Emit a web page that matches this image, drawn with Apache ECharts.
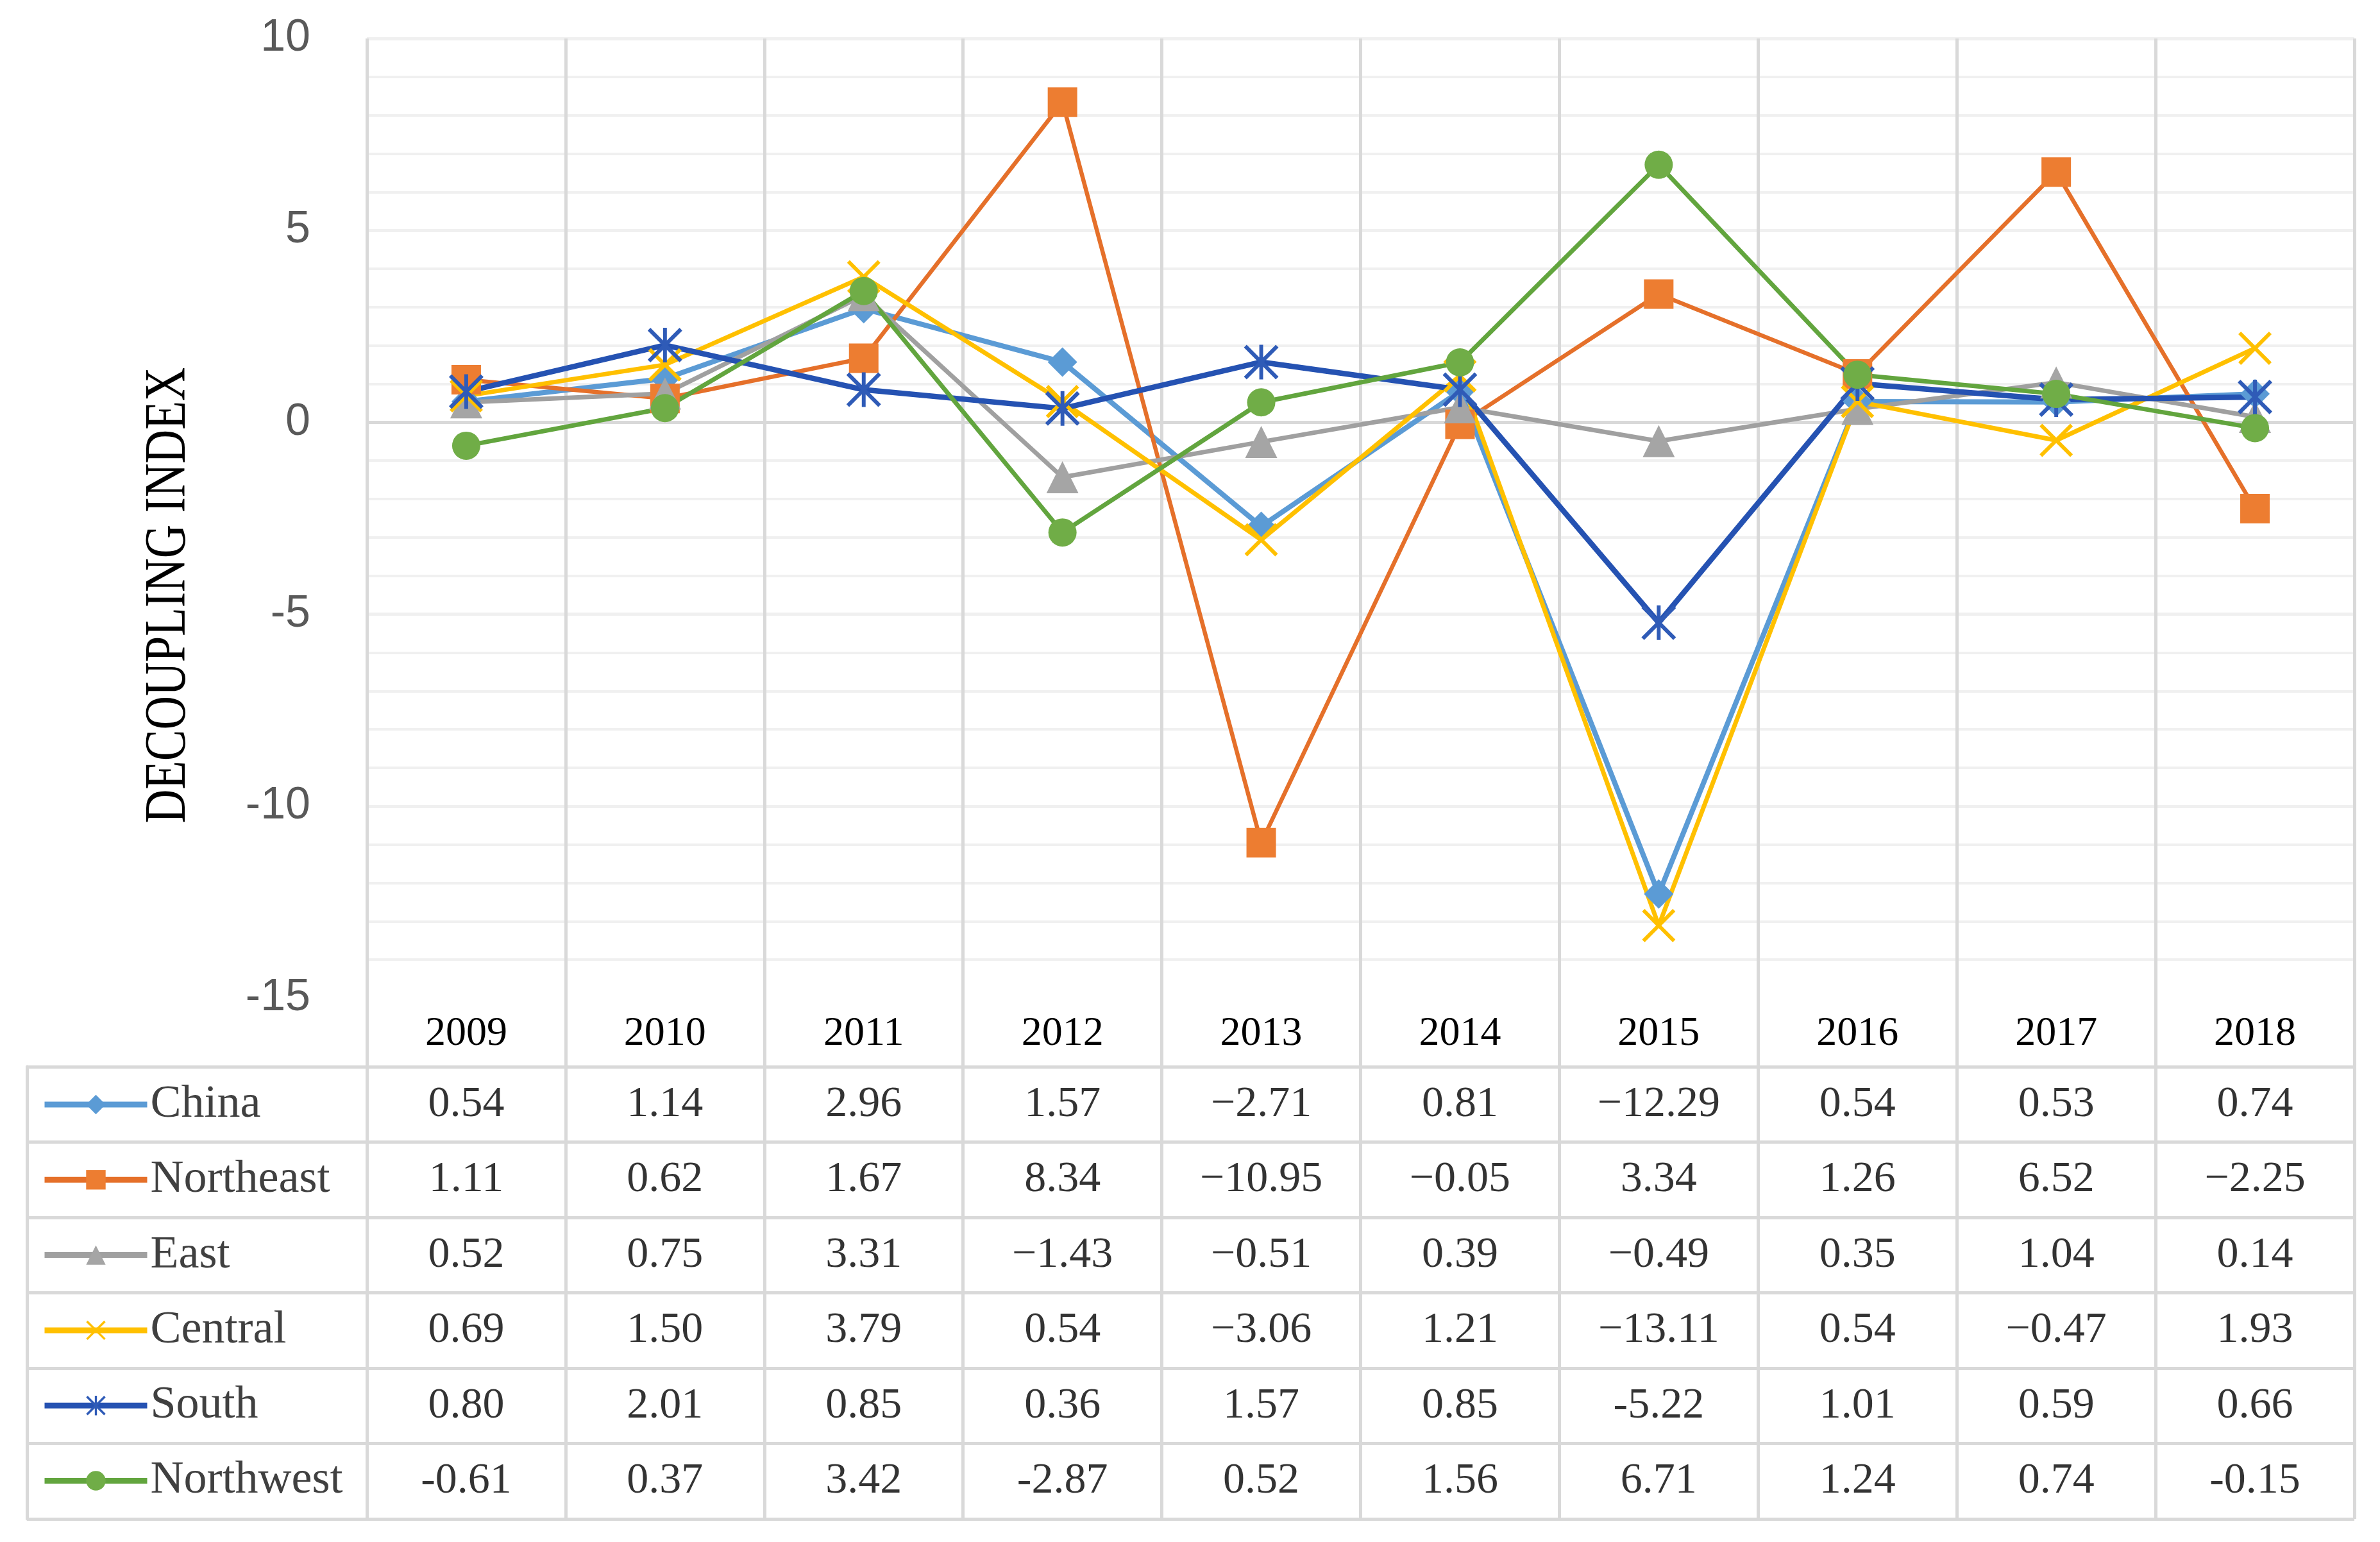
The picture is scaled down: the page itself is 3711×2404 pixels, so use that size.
<!DOCTYPE html>
<html>
<head>
<meta charset="utf-8">
<script src="https://cdn.jsdelivr.net/npm/echarts@6/dist/echarts.min.js"></script>
<style>html,body{margin:0;padding:0;background:#fff}#c{width:3711px;height:2404px}</style>
</head>
<body>
<div id="c"></div>
<script>
// ---- data ----
const years = ['2009','2010','2011','2012','2013','2014','2015','2016','2017','2018'];
const names = ['China','Northeast','East','Central','South','Northwest'];
const china     = [0.54, 1.14, 2.96, 1.57, -2.71, 0.81, -12.29, 0.54, 0.53, 0.74];
const northeast = [1.11, 0.62, 1.67, 8.34, -10.95, -0.05, 3.34, 1.26, 6.52, -2.25];
const east      = [0.52, 0.75, 3.31, -1.43, -0.51, 0.39, -0.49, 0.35, 1.04, 0.14];
const central   = [0.69, 1.50, 3.79, 0.54, -3.06, 1.21, -13.11, 0.54, -0.47, 1.93];
const south     = [0.80, 2.01, 0.85, 0.36, 1.57, 0.85, -5.22, 1.01, 0.59, 0.66];
const northwest = [-0.61, 0.37, 3.42, -2.87, 0.52, 1.56, 6.71, 1.24, 0.74, -0.15];
const values = [china, northeast, east, central, south, northwest];
const minusSigns = ['\u2212','\u2212','\u2212','\u2212','-','-'];
const yTitle = 'DECOUPLING INDEX';

// ---- styles ----
const markColors = ['#5B9BD5','#ED7D31','#A5A5A5','#FFC000','#2F5BB7','#70AD47'];
const lineColors = ['#5B9BD5','#E5702A','#A0A0A0','#FFC000','#2552B2','#62A53E'];
const lineWidths = [8, 6.5, 7, 7, 8.5, 7];
const X_PATH = 'M0,0.8L0.8,0L5,4.2L9.2,0L10,0.8L5.8,5L10,9.2L9.2,10L5,5.8L0.8,10L0,9.2L4.2,5Z';
const STAR_PATH = X_PATH + 'M4.45,0L5.55,0L5.55,10L4.45,10Z';
const symbols = ['diamond','rect','triangle','path://' + X_PATH,'path://' + STAR_PATH,'circle'];
const symbolSizes = [46, 46, 50, 52, 54, 44];
const gridLine = '#d9d9d9';
const minorLine = '#f0f0f0';
const serif = '"Liberation Serif", "Times New Roman", serif';

function fmt(v, j) {
  const s = Math.abs(v).toFixed(2);
  return v < 0 ? minusSigns[j] + s : s;
}

const cellData = [];
values.forEach((arr, j) => arr.forEach((v, i) => cellData.push([i, j, v])));

const chart = echarts.init(document.getElementById('c'), null, {renderer: 'canvas'});

const lineSeries = names.map((n, i) => ({
  type: 'line',
  name: n,
  xAxisIndex: 0,
  yAxisIndex: 0,
  data: values[i],
  symbol: symbols[i],
  symbolSize: symbolSizes[i],
  showAllSymbol: true,
  lineStyle: {color: lineColors[i], width: lineWidths[i]},
  itemStyle: {color: markColors[i]},
  emphasis: {disabled: true}
}));

const hiddenCat = (gi, data, inverse) => ({
  type: 'category', gridIndex: gi, data: data, inverse: !!inverse,
  axisLine: {show: false, onZero: false}, axisTick: {show: false}, axisLabel: {show: false},
  splitLine: {show: true, interval: 0, lineStyle: {color: gridLine, width: 5}}
});

chart.setOption({
  animation: false,
  backgroundColor: '#fff',
  grid: [
    {left: 572, right: 40, top: 60, height: 1496, containLabel: false, outerBoundsMode: 'none'},
    {left: 572, right: 40, top: 1663, height: 705, containLabel: false, outerBoundsMode: 'none'},
    {left: 42, width: 530, top: 1663, height: 705, containLabel: false, outerBoundsMode: 'none'},
    {left: 572, right: 40, top: 1556, height: 107, containLabel: false, outerBoundsMode: 'none'}
  ],
  xAxis: [
    {
      type: 'category', gridIndex: 0, data: years, boundaryGap: true,
      axisLine: {show: false, onZero: false}, axisTick: {show: false},
      axisLabel: {margin: 21, fontFamily: serif, fontSize: 64, lineHeight: 70, color: '#000'},
      splitLine: {show: true, interval: 0, lineStyle: {color: gridLine, width: 5}}
    },
    hiddenCat(1, years),
    {type: 'value', gridIndex: 2, show: false},
    hiddenCat(3, years)
  ],
  yAxis: [
    {
      type: 'value', gridIndex: 0, min: -15, max: 10, interval: 5,
      axisLine: {show: false}, axisTick: {show: false},
      axisLabel: {margin: 88, fontFamily: '"Liberation Sans Narrow", "Liberation Sans", sans-serif', fontSize: 70, color: '#595959'},
      splitLine: {show: true, lineStyle: {color: ['rgba(0,0,0,0)', minorLine, minorLine, gridLine, minorLine, minorLine], width: 5}},
      minorTick: {show: false, splitNumber: 5},
      minorSplitLine: {show: true, lineStyle: {color: minorLine, width: 4}}
    },
    hiddenCat(1, names, true),
    {
      type: 'category', gridIndex: 2, data: names, inverse: true,
      axisLine: {show: true, onZero: false, lineStyle: {color: gridLine, width: 5}},
      axisTick: {show: false}, axisLabel: {show: false},
      splitLine: {show: true, interval: 0, lineStyle: {color: gridLine, width: 5}}
    },
    {type: 'value', gridIndex: 3, show: false}
  ],
  legend: {
    data: names,
    orient: 'vertical',
    left: 65,
    top: 1682,
    padding: 0,
    itemGap: 37.3,
    itemWidth: 160,
    itemHeight: 38,
    selectedMode: false,
    lineStyle: {width: 9},
    textStyle: {fontFamily: serif, fontSize: 72, lineHeight: 80, color: '#404040'}
  },
  graphic: [{
    type: 'text',
    x: 264, y: 928,
    rotation: Math.PI / 2,
    scaleX: 0.81,
    silent: true,
    style: {text: yTitle, fontFamily: serif, fontSize: 90, fill: '#000', align: 'center', verticalAlign: 'middle'}
  }],
  series: lineSeries.concat([{
    type: 'scatter',
    name: 'table',
    xAxisIndex: 1,
    yAxisIndex: 1,
    data: cellData,
    symbolSize: 1,
    silent: true,
    itemStyle: {color: 'rgba(0,0,0,0)'},
    label: {
      show: true, position: 'inside',
      formatter: p => fmt(p.value[2], p.value[1]),
      fontFamily: serif, fontSize: 68, color: '#000'
    },
    emphasis: {disabled: true}
  }])
});
</script>
</body>
</html>
